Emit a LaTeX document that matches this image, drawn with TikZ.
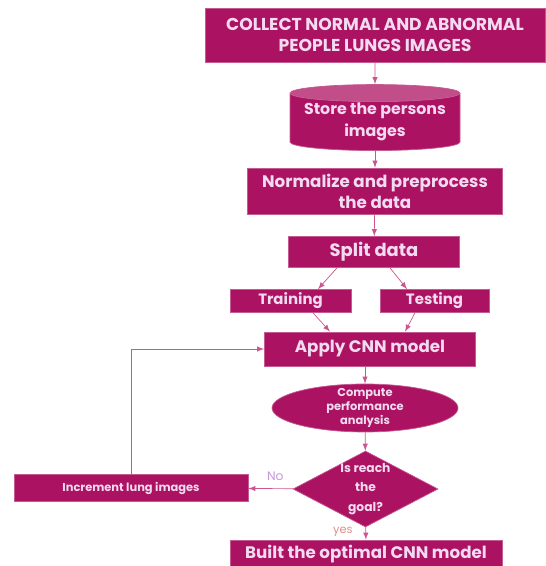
\documentclass[tikz,border=0pt]{standalone}
\usepackage{fontspec}
\setmainfont{Poppins}
\usetikzlibrary{shapes.geometric,calc}

\definecolor{lungmag}{RGB}{172,18,98}
\definecolor{lungtext}{RGB}{242,218,240}
\definecolor{lungline}{RGB}{206,84,142}
\definecolor{nocol}{RGB}{200,150,220}
\definecolor{yescol}{RGB}{226,140,140}

\begin{document}
\begin{tikzpicture}
    % Define styles
    \tikzset{
        stepbox/.style={draw=lungmag!70!white, fill=lungmag, text=lungtext, align=center, font=\bfseries\fontsize{9.5}{12}\selectfont, inner sep=1pt},
        storage/.style={cylinder, shape border rotate=90, aspect=0.12, draw=lungmag!70!white, cylinder uses custom fill, cylinder body fill=lungmag, cylinder end fill=lungmag!75!white, text=lungtext, align=center, font=\bfseries\fontsize{9}{12.5}\selectfont, minimum width=3.4cm, minimum height=1.32cm, inner sep=0pt},
        measure/.style={ellipse, draw=lungmag!70!white, fill=lungmag, text=lungtext, align=center, font=\bfseries\fontsize{6.5}{8}\selectfont, minimum width=3.72cm, minimum height=0.96cm, inner xsep=0pt, inner ysep=-3pt},
        decision/.style={diamond, aspect=1.9, draw=lungmag!70!white, fill=lungmag, text=lungtext, align=center, font=\bfseries\fontsize{7}{11}\selectfont, minimum width=2.9cm, minimum height=1.52cm, inner sep=-4pt},
        flow/.style={->, >=latex, draw=lungline, thin}
    }

    % Fixed frame
    \useasboundingbox (0,0) rectangle (10.92,11.32);

    % Data collection and preparation
    \node[stepbox, minimum width=6.8cm, minimum height=1.08cm, font=\bfseries\fontsize{9.8}{12}\selectfont] (collect) at (7.5,10.62) {COLLECT NORMAL AND ABNORMAL\\PEOPLE LUNGS IMAGES};
    \node[storage] (store) at (7.5,8.88) {Store the persons\\images};
    \node[stepbox, minimum width=5.1cm, minimum height=0.92cm] (norm) at (7.5,7.50) {Normalize and preprocess\\the data};
    \node[stepbox, minimum width=3.42cm, minimum height=0.62cm, font=\bfseries\fontsize{10.2}{12}\selectfont] (split) at (7.48,6.28) {Split data};
    \node[stepbox, minimum width=2.42cm, minimum height=0.46cm, font=\bfseries\fontsize{8.5}{10}\selectfont] (train) at (5.81,5.30) {Training};
    \node[stepbox, minimum width=2.18cm, minimum height=0.46cm, font=\bfseries\fontsize{8.5}{10}\selectfont] (test) at (8.69,5.30) {Testing};

    % Model and evaluation
    \node[stepbox, minimum width=4.22cm, minimum height=0.68cm] (apply) at (7.40,4.34) {Apply CNN model};
    \node[measure] (compute) at (7.30,3.16) {Compute\\performance\\analysis};
    \node[decision] (goal) at (7.31,1.54) {Is reach\\the\\goal?};
    \node[stepbox, minimum width=4.68cm, minimum height=0.54cm, font=\bfseries\fontsize{6.5}{8}\selectfont] (incr) at (2.62,1.56) {Increment lung images};
    \node[stepbox, minimum width=5.44cm, minimum height=0.56cm] (built) at (7.32,0.24) {Built the optimal CNN model};

    % Connectors
    \draw[flow] (collect) -- (store);
    \draw[flow] (store) -- (norm);
    \draw[flow] (norm) -- (split);
    \draw[flow] ([xshift=-0.74cm]split.south) -- ([xshift=0.55cm]train.north);
    \draw[flow] ([xshift=0.32cm]split.south) -- ([xshift=-0.55cm]test.north);
    \draw[flow] ([xshift=0.45cm]train.south) -- ([xshift=-0.8cm]apply.north);
    \draw[flow] ([xshift=-0.39cm]test.south) -- ([xshift=0.7cm]apply.north);
    \draw[flow] (compute.north |- apply.south) -- (compute);
    \draw[flow] (compute) -- (goal);
    \draw[flow] (goal) -- node[pos=0.4, above=1pt, text=nocol, font=\fontsize{7}{8}\selectfont] (nolabel) {No} (incr);
    \draw[flow] (goal) -- node[pos=0.35, left=4pt, text=yescol, font=\fontsize{6.5}{8}\selectfont] (yeslabel) {yes} (built);
    \draw[flow] (incr.north) |- (apply.west);

\end{tikzpicture}
\end{document}
